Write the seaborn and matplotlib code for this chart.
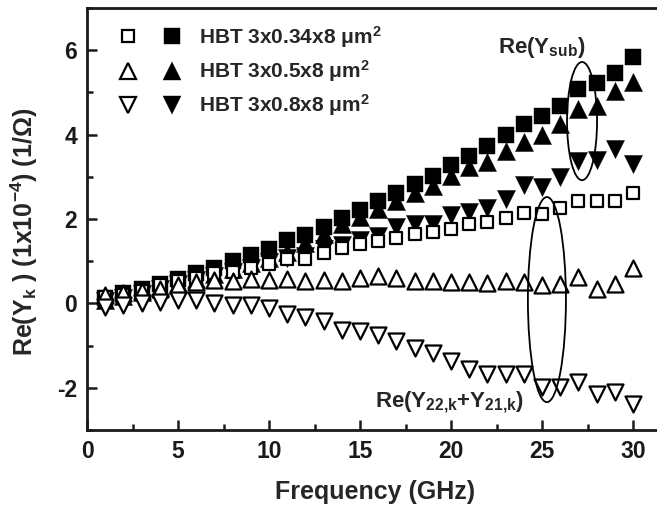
import matplotlib
matplotlib.use("Agg")
import matplotlib.pyplot as plt
import seaborn as sns
import numpy as np
import pandas as pd
from matplotlib.lines import Line2D
from matplotlib.patches import Ellipse
from matplotlib.legend_handler import HandlerTuple
from matplotlib.ticker import MultipleLocator

# ---------------- data ----------------
freq = list(range(1, 31))  # GHz

# HBT 3x0.34x8 um^2
sub_034 = [0.12, 0.24, 0.34, 0.46, 0.57, 0.71, 0.83, 1.01, 1.14, 1.30,
           1.50, 1.61, 1.81, 2.03, 2.22, 2.42, 2.61, 2.84, 3.01, 3.28,
           3.49, 3.73, 3.98, 4.25, 4.44, 4.68, 5.07, 5.23, 5.46, 5.84]
y2221_034 = [0.16, 0.21, 0.30, 0.43, 0.53, 0.61, 0.71, 0.75, 0.84, 0.94,
             1.05, 1.06, 1.20, 1.31, 1.41, 1.49, 1.55, 1.65, 1.69, 1.76,
             1.89, 1.93, 2.02, 2.14, 2.13, 2.26, 2.42, 2.42, 2.43, 2.62]
# HBT 3x0.5x8 um^2
sub_05 = [0.08, 0.18, 0.28, 0.38, 0.48, 0.58, 0.70, 0.82, 0.95, 1.08,
          1.22, 1.42, 1.65, 1.87, 2.05, 2.24, 2.42, 2.61, 2.78, 3.02,
          3.23, 3.35, 3.61, 3.82, 4.00, 4.25, 4.60, 4.68, 5.04, 5.25]
y2221_05 = [0.20, 0.25, 0.30, 0.35, 0.43, 0.50, 0.55, 0.54, 0.57, 0.55,
            0.57, 0.53, 0.55, 0.53, 0.61, 0.65, 0.61, 0.54, 0.54, 0.50,
            0.51, 0.49, 0.53, 0.50, 0.44, 0.47, 0.63, 0.35, 0.47, 0.83]
# HBT 3x0.8x8 um^2
sub_08 = [0.05, 0.13, 0.22, 0.33, 0.45, 0.55, 0.65, 0.75, 0.85, 0.97,
          1.08, 1.12, 1.28, 1.38, 1.50, 1.60, 1.80, 1.87, 1.88, 2.09,
          2.16, 2.27, 2.48, 2.81, 2.75, 2.99, 3.37, 3.39, 3.65, 3.31]
y2221_08 = [-0.08, -0.04, 0.00, 0.03, 0.07, 0.09, 0.00, -0.04, -0.04, -0.10,
            -0.25, -0.33, -0.41, -0.63, -0.65, -0.75, -0.88, -1.06, -1.18, -1.37,
            -1.56, -1.68, -1.68, -1.68, -1.99, -1.97, -1.87, -2.14, -2.10, -2.38]

labels = [r"HBT 3x0.34x8 $\mathrm{μm}^{2}$",
          r"HBT 3x0.5x8 $\mathrm{μm}^{2}$",
          r"HBT 3x0.8x8 $\mathrm{μm}^{2}$"]
x_ticks = [0, 5, 10, 15, 20, 25, 30]
y_ticks = [-2, 0, 2, 4, 6]

# ---------------- style ----------------
sns.set_theme(style="ticks")
plt.rcParams["font.family"] = ["Liberation Sans", "DejaVu Sans"]
plt.rcParams["font.weight"] = "bold"
plt.rcParams["axes.labelweight"] = "bold"
plt.rcParams["axes.unicode_minus"] = False
plt.rcParams["mathtext.fontset"] = "custom"
plt.rcParams["mathtext.rm"] = "Liberation Sans"
plt.rcParams["mathtext.bf"] = "Liberation Sans:bold"
plt.rcParams["mathtext.it"] = "Liberation Sans:bold"
plt.rcParams["mathtext.sf"] = "Liberation Sans:bold"
plt.rcParams["mathtext.default"] = "bf"

W, H = 657, 505
fig = plt.figure(figsize=(W / 100, H / 100), dpi=100)
left_px, right_px, top_px, bot_px = 87, 657, 8, 430
ax = fig.add_axes([left_px / W, 1 - bot_px / H, (right_px - left_px) / W, (bot_px - top_px) / H])

S_SQ_F = 11.5 ** 2
S_SQ_O = 9.3 ** 2
S_TR_F = 13.0 ** 2
S_TR_O = 11.5 ** 2

series = [
    (sub_034, "s", "black", S_SQ_F, 0.3, 3),
    (sub_05, "^", "black", S_TR_F, 0.3, 3),
    (sub_08, "v", "black", S_TR_F, 0.3, 3),
    (y2221_034, "s", "white", S_SQ_O, 1.6, 4),
    (y2221_05, "^", "white", S_TR_O, 1.6, 4),
    (y2221_08, "v", "white", S_TR_O, 1.6, 4),
]
for vals, mk, fc, s, lw, z in series:
    df = pd.DataFrame({"f": freq, "v": vals})
    sns.scatterplot(data=df, x="f", y="v", marker=mk, s=s, color=fc,
                    edgecolor="black", linewidth=lw, ax=ax, legend=False,
                    zorder=z)

ax.set_xlim(0, (right_px - left_px) / 18.2)
ax.set_ylim(-3, 7)
ax.set_xticks(x_ticks)
ax.set_yticks(y_ticks)
ax.xaxis.set_minor_locator(MultipleLocator(2.5))
ax.yaxis.set_minor_locator(MultipleLocator(1))
ax.tick_params(which="both", direction="in", top=False, right=False, width=1.8,
               labelsize=16.5, colors="#1a1a1a")
ax.tick_params(which="major", length=7, pad=7)
ax.tick_params(which="minor", length=4)
for sp in ax.spines.values():
    sp.set_linewidth(2.0)
    sp.set_color("#1a1a1a")
ax.spines["right"].set_visible(False)

ax.set_xlabel("Frequency (GHz)", fontsize=18, fontweight="bold")
ax.set_ylabel(r"Re(Y$_{k}$ ) (1x10$^{-4}$) (1/Ω)", fontsize=18, fontweight="bold")
ax.xaxis.set_label_coords((375 - left_px) / (right_px - left_px), -0.118)
ax.yaxis.set_label_coords((40 - left_px) / (right_px - left_px), (bot_px - 232) / (bot_px - top_px))

# annotations
ax.text(25.0, 5.93, r"Re(Y$_{sub}$)", fontsize=16, fontweight="bold",
        ha="center", va="baseline")
ax.text(19.9, -2.46, r"Re(Y$_{22{,}k}$+Y$_{21{,}k}$)", fontsize=16, fontweight="bold",
        ha="center", va="baseline")
ax.add_patch(Ellipse((27.2, 4.32), 1.65, 2.8, fill=False, lw=1.3, ec="black", zorder=5))
ax.add_patch(Ellipse((25.27, 0.09), 2.09, 4.86, fill=False, lw=1.3, ec="black", zorder=5))

# legend
mk_pairs = [("s", S_SQ_O, S_SQ_F), ("^", S_TR_O, S_TR_F), ("v", S_TR_O, S_TR_F)]
handles = []
for mk, so, sf in mk_pairs:
    ho = Line2D([], [], ls="none", marker=mk, ms=np.sqrt(so), mfc="white", mec="black", mew=1.6)
    hf = Line2D([], [], ls="none", marker=mk, ms=np.sqrt(sf), mfc="black", mec="black", mew=0.3)
    handles.append((ho, hf))
leg = ax.legend(handles, labels, handler_map={tuple: HandlerTuple(ndivide=None, pad=0)},
                loc="upper left", bbox_to_anchor=((106 - left_px) / (right_px - left_px),
                                                   (bot_px - 24) / (bot_px - top_px)),
                frameon=False, borderpad=0, borderaxespad=0, handlelength=4.2,
                handletextpad=0.25, labelspacing=0.4, fontsize=15)
for t in leg.get_texts():
    t.set_fontweight("bold")

fig.savefig("out.png", dpi=100)
